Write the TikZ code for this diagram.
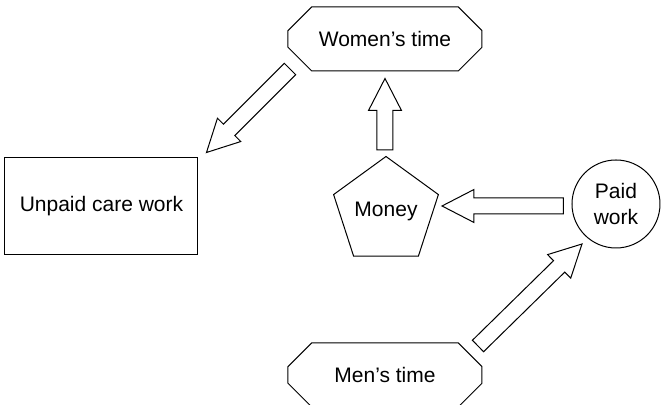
\documentclass[tikz,border=0pt]{standalone}
\usepackage{fontspec}
\setmainfont{Liberation Sans}
\usetikzlibrary{calc,shapes.geometric,shapes.misc}
\newcommand{\blockarrow}[2]{%
  \coordinate (hb) at ($(#2)!16pt!(#1)$);
  \draw[block] ($(#1)!4pt!90:(#2)$) -- ($(hb)!4pt!90:(#2)$) -- ($(hb)!8.25pt!90:(#2)$) -- (#2)
    -- ($(hb)!8.25pt!-90:(#2)$) -- ($(hb)!4pt!-90:(#2)$) -- ($(#1)!4pt!-90:(#2)$) -- cycle;}

\begin{document}
\begin{tikzpicture}[
  x=0.5pt,
  y=0.5pt,
  every node/.style={font=\fontsize{10.5}{12.6}\selectfont},
  box/.style={draw, line width=0.5pt, inner sep=0pt, align=center},
  octa/.style={box, chamfered rectangle, chamfered rectangle xsep=8pt, chamfered rectangle ysep=8pt, minimum width=97pt, minimum height=32pt},
  rect/.style={box, rectangle, minimum width=96.5pt, minimum height=48.5pt},
  penta/.style={box, regular polygon, regular polygon sides=5, minimum size=53.6pt},
  disc/.style={box, circle, minimum size=44pt},
  block/.style={draw, line width=0.5pt, line join=miter}
]
\useasboundingbox (0,0) rectangle (661,405);
\node[octa] (wt) at (385,366) {Women's time};
\node[octa] (mt) at (385,30) {Men's time};
\node[rect] (uc) at (101.5,198.5) {Unpaid care work};
\node[penta] (mo) at (386,193.4) {Money};
\node[disc] (pw) at (616,201) {Paid\\work};

\coordinate (wt-uc-a) at ($(wt.center)+(-95,-30)$);
\coordinate (wt-uc-b) at ($(uc.north east)+(8,5)$);
\coordinate (mo-wt-a) at ($(mo.corner 1)+(-1,6)$);
\coordinate (mo-wt-b) at ($(wt.south)+(0,-7)$);
\coordinate (pw-mo-a) at ($(pw.west)+(-8,-2)$);
\coordinate (pw-mo-b) at ($(mo.center)+(56,5.6)$);
\coordinate (mt-pw-a) at ($(mt.center)+(93,29)$);
\coordinate (mt-pw-b) at ($(pw.center)+(-34,-40)$);

\blockarrow{wt-uc-a}{wt-uc-b}
\blockarrow{mo-wt-a}{mo-wt-b}
\blockarrow{pw-mo-a}{pw-mo-b}
\blockarrow{mt-pw-a}{mt-pw-b}
\end{tikzpicture}
\end{document}
